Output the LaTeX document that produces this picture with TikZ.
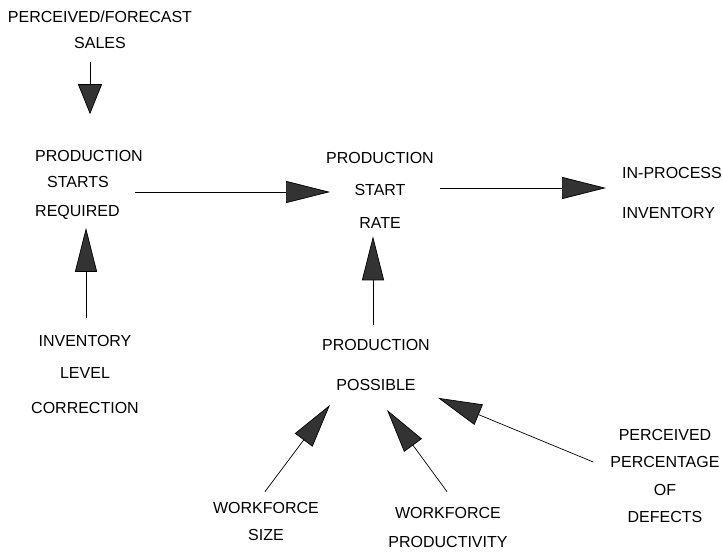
\documentclass[tikz,border=0pt]{standalone}
\usepackage{fontspec}
\setmainfont{Liberation Sans}
\usetikzlibrary{arrows.meta, positioning}
\tikzstyle{varname} = [inner sep=0pt, align=center, font=\fontsize{16}{19}\selectfont]
\tikzstyle{influence} = [line width=0.7pt, -{Triangle[length=44pt,width=22pt,fill=black!80]}]

\begin{document}
\begin{tikzpicture}[x=1pt,y=-1pt]
		\useasboundingbox (0,0) rectangle (722,552);
		% variables
		\node[varname] (sales) at (100,30) {PERCEIVED/FORECAST\\[7pt]SALES};
		\node[varname, align=left, anchor=west] (starts) at (35,185) {PRODUCTION\\[7pt]\hspace*{12pt}STARTS\\[10pt]REQUIRED};
		\node[varname] (rate) at (380,190) {PRODUCTION\\[13pt]START\\[14pt]RATE};
		\node[varname, align=left, anchor=west] (inproc) at (622,193) {IN-PROCESS\\[21pt]INVENTORY};
		\node[varname] (correction) at (85,374) {INVENTORY\\[13pt]LEVEL\\[16pt]CORRECTION};
		\node[varname] (possible) at (376,365) {PRODUCTION\\[21pt]POSSIBLE};
		\node[varname] (size) at (266,521) {WORKFORCE\\[8pt]SIZE};
		\node[varname] (productivity) at (448,527) {WORKFORCE\\[10pt]PRODUCTIVITY};
		\node[varname] (defects) at (665,476) {PERCEIVED\\[8pt]PERCENTAGE\\[9pt]OF\\[8pt]DEFECTS};
		% influences
		\draw[influence, -{Triangle[length=30pt,width=24pt,fill=black!80]}, shorten <=13pt, shorten >=36pt] ([xshift=-10pt]sales.south) -- ([xshift=55pt]starts.north west);
		\draw[influence, shorten <=17pt, shorten >=8pt] ([xshift=1pt]correction.north) -- ([xshift=51pt]starts.south west);
		\draw[influence] ([xshift=-8pt,yshift=-7pt]starts.east) -- ([xshift=4pt,yshift=-2pt]rate.west);
		\draw[influence, shorten <=6pt, shorten >=16pt] ([yshift=2pt]rate.east) -- ([yshift=5pt]inproc.west);
		\draw[influence, shorten <=14pt, shorten >=8pt] ([xshift=-3pt]possible.north) -- ([xshift=-3pt]possible.north |- rate.south);
		\draw[influence] ([xshift=-1pt,yshift=10pt]size.north) -- ([xshift=-46pt,yshift=-14pt]possible.south);
		\draw[influence] ([xshift=-1pt,yshift=15pt]productivity.north) -- ([xshift=11pt,yshift=-19pt]possible.south);
		\draw[influence] ([xshift=-17pt,yshift=14pt]defects.west) -- ([xshift=62pt,yshift=-7pt]possible.south);
	\end{tikzpicture}
\end{document}
